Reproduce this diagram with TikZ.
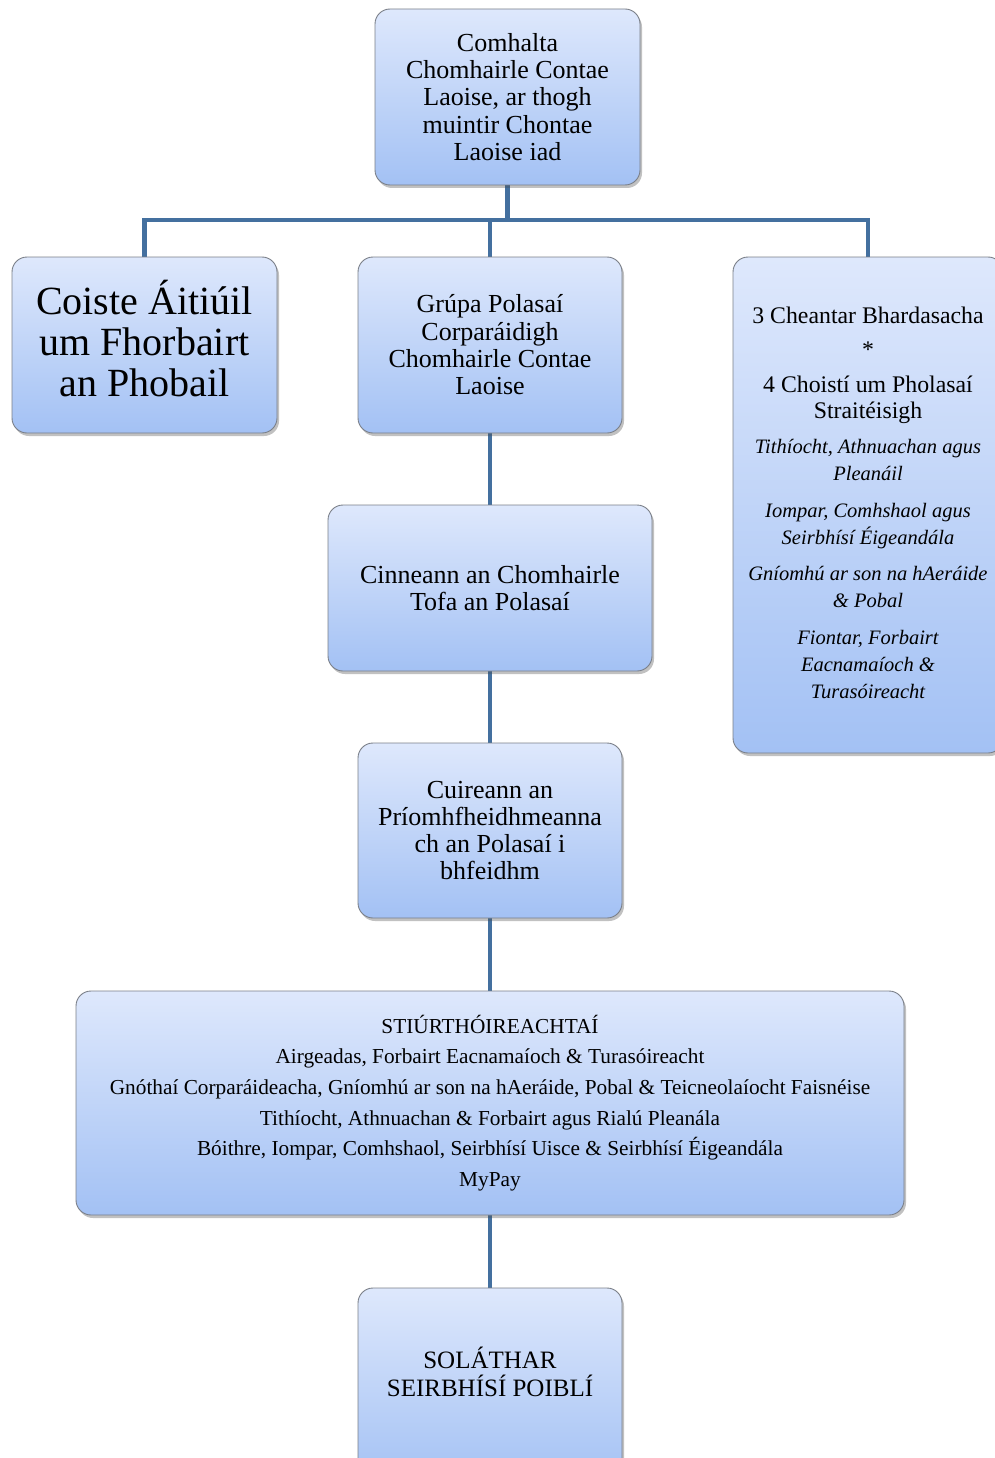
\documentclass[tikz,border=0pt]{standalone}
\usepackage{fontspec}
\setmainfont{Liberation Serif}
\usetikzlibrary{shadows,backgrounds}
\definecolor{boxtop}{HTML}{DEE8FC}
\definecolor{boxbot}{HTML}{A3C1F4}
\definecolor{boxline}{HTML}{7A7F88}
\definecolor{connc}{HTML}{44709F}
\tikzset{
  orgbox/.style={draw=boxline, line width=0.9pt, rounded corners=15pt,
    top color=boxtop, bottom color=boxbot, align=center, inner sep=0pt,
    drop shadow={shadow xshift=2pt, shadow yshift=-3pt, opacity=0.35, fill=black!70}},
  conn/.style={draw=connc, line width=4.5pt},
  fmid/.style={font=\fontsize{26}{27.3}\selectfont},
}
\newcommand{\itl}{\fontsize{20.5}{27}\selectfont\itshape}
\begin{document}
\begin{tikzpicture}[x=1pt,y=-1pt]
\useasboundingbox (0,0) rectangle (995,1458);
% nodes
\node[orgbox, fmid, minimum width=265pt, minimum height=176pt] (top) at (507.5,97)
  {Comhalta\\Chomhairle Contae\\Laoise, ar thogh\\muintir Chontae\\Laoise iad};
\node[orgbox, minimum width=265pt, minimum height=176pt,
  label={[font=\fontsize{40}{41}\selectfont, align=center, yshift=6pt]center:{Coiste Áitiúil\\um Fhorbairt\\an Phobail}}] (coiste) at (144.5,345) {};
\node[orgbox, fmid, minimum width=264pt, minimum height=176pt] (grupa) at (490,345)
  {Grúpa Polasaí\\Corparáidigh\\Chomhairle Contae\\Laoise};
\node[orgbox, minimum width=270pt, minimum height=496pt,
  label={[font=\fontsize{23.8}{25.5}\selectfont, align=center, yshift=2pt]center:{3 Cheantar Bhardasacha\\[8pt]
   *\\[10pt]
   4 Choistí um Pholasaí\\Straitéisigh\\[10pt]
   \itl Tithíocht, Athnuachan agus\\[1.5pt] \itl Pleanáil\\[11pt]
   \itl Iompar, Comhshaol agus\\[1.5pt] \itl Seirbhísí Éigeandála\\[11pt]
   \itl Gníomhú ar son na hAeráide\\[1.5pt] \itl \& Pobal\\[11pt]
   \itl Fiontar, Forbairt\\[1.5pt] \itl Eacnamaíoch \&\\[1.5pt] \itl Turasóireacht}}] (ceantar) at (868,505) {};
\node[orgbox, fmid, minimum width=324pt, minimum height=166pt] (cinneann) at (490,588)
  {Cinneann an Chomhairle\\Tofa an Polasaí};
\node[orgbox, fmid, minimum width=264pt, minimum height=175pt] (cuireann) at (490,830.5)
  {Cuireann an\\Príomhfheidhmeanna\\ch an Polasaí i\\bhfeidhm};
\node[orgbox, font=\fontsize{21.3}{30.6}\selectfont, minimum width=828pt, minimum height=224pt] (stiur) at (490,1103)
  {STIÚRTHÓIREACHTAÍ\\
   Airgeadas, Forbairt Eacnamaíoch \& Turasóireacht\\
   Gnóthaí Corparáideacha, Gníomhú ar son na hAeráide, Pobal \& Teicneolaíocht Faisnéise\\
   Tithíocht, Athnuachan \& Forbairt agus Rialú Pleanála\\
   Bóithre, Iompar, Comhshaol, Seirbhísí Uisce \& Seirbhísí Éigeandála\\
   MyPay};
\node[orgbox, minimum width=264pt, minimum height=196pt,
  label={[font=\fontsize{25}{27.3}\selectfont, align=center, yshift=14pt]center:{SOLÁTHAR\\SEIRBHÍSÍ POIBLÍ}}] (solathar) at (490,1386) {};
% connectors
\begin{scope}[on background layer]
\coordinate (busL) at (144.5,220);
\coordinate (busR) at (868,220);
\draw[conn] (top.south) -- (top.south |- busL);
\draw[conn] ([xshift=-2.25pt]busL) -- ([xshift=2.25pt]busR);
\draw[conn] (busL) -- (coiste.north);
\draw[conn] (grupa.north |- busL) -- (grupa.north);
\draw[conn] (busR) -- (ceantar.north);
\draw[conn] (grupa.south) -- (cinneann.north);
\draw[conn] (cinneann.south) -- (cuireann.north);
\draw[conn] (cuireann.south) -- (stiur.north);
\draw[conn] (stiur.south) -- (solathar.north);
\end{scope}
\end{tikzpicture}
\end{document}
